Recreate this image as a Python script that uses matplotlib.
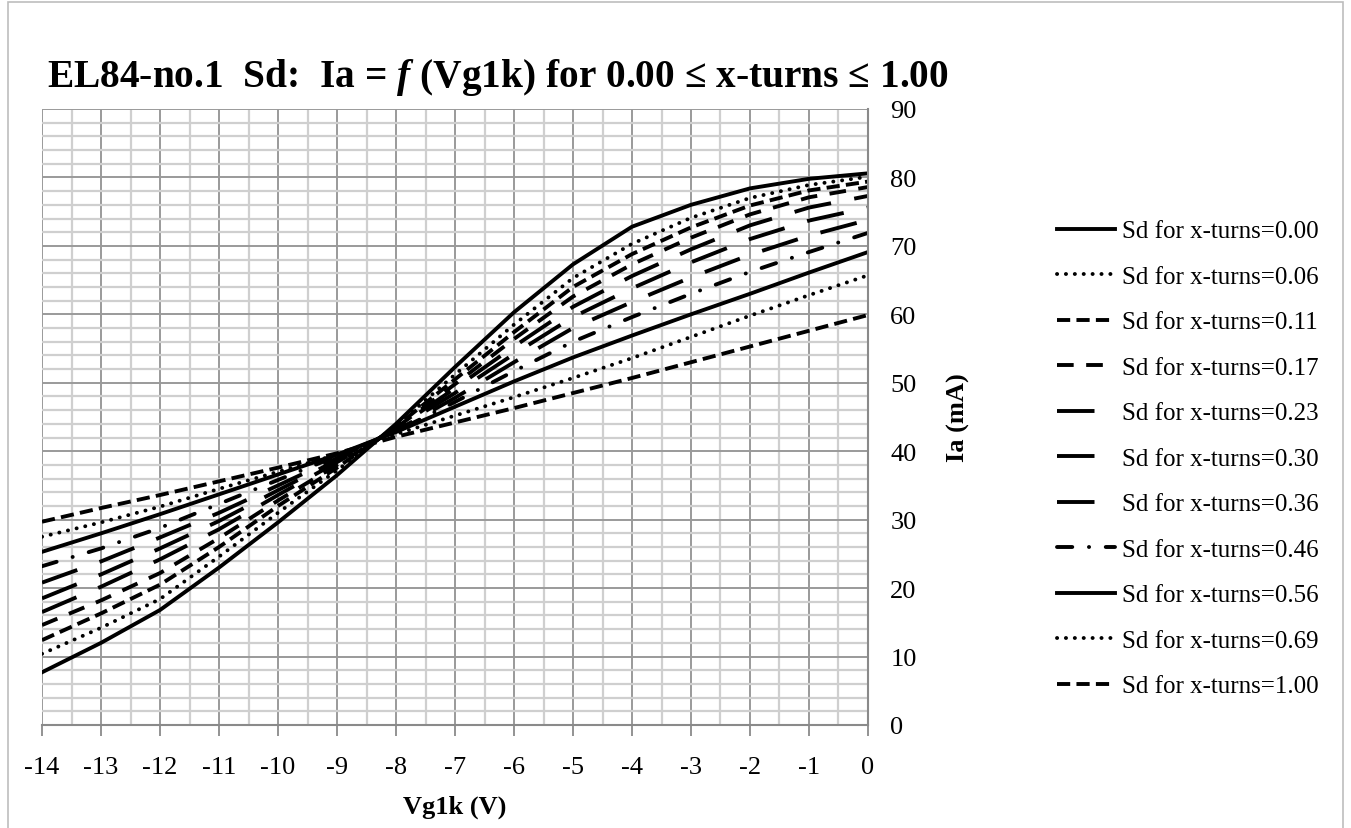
import matplotlib
matplotlib.use('Agg')
import matplotlib.pyplot as plt
from matplotlib.patches import Rectangle
from matplotlib.ticker import MultipleLocator

plt.rcParams['font.family'] = ['Liberation Serif', 'DejaVu Serif']
plt.rcParams['mathtext.fontset'] = 'custom'
plt.rcParams['mathtext.rm'] = 'Liberation Serif:bold'
plt.rcParams['mathtext.it'] = 'Liberation Serif:italic:bold'
plt.rcParams['lines.scale_dashes'] = False
plt.rcParams['axes.unicode_minus'] = False

""" Data read off the chart """

vg1k = [-14, -13, -12, -11, -10, -9, -8, -7, -6, -5, -4, -3, -2, -1, 0]

turns = ['0.00', '0.06', '0.11', '0.17', '0.23', '0.30', '0.36', '0.46', '0.56', '0.69', '1.00']

ia_000 = [7.7, 12.0, 16.8, 23.0, 29.6, 36.5, 44.0, 52.3, 60.3, 67.3, 72.8, 76.0, 78.4, 79.8, 80.6]
ia_006 = [10.4, 14.2, 18.4, 24.6, 31.0, 37.2, 43.7, 51.2, 58.5, 65.3, 70.3, 74.1, 77.0, 78.9, 80.1]
ia_011 = [12.4, 16.3, 20.5, 26.0, 32.0, 37.6, 43.6, 50.5, 57.4, 64.0, 68.8, 72.7, 75.9, 78.1, 79.4]
ia_017 = [14.6, 18.2, 22.2, 27.3, 32.8, 38.0, 43.4, 49.8, 56.4, 62.6, 67.3, 71.2, 74.6, 77.1, 78.6]
ia_023 = [16.5, 20.2, 24.2, 28.6, 33.6, 38.4, 43.3, 49.2, 55.3, 61.1, 65.6, 69.5, 73.0, 75.6, 77.3]
ia_030 = [18.5, 22.0, 25.8, 29.8, 34.3, 38.7, 43.2, 48.5, 54.2, 59.6, 63.8, 67.6, 71.0, 73.7, 75.6]
ia_036 = [20.8, 23.9, 27.4, 31.0, 35.0, 39.0, 43.0, 47.8, 53.0, 58.0, 61.8, 65.4, 68.7, 71.5, 73.8]
ia_046 = [23.2, 25.8, 28.8, 32.3, 35.8, 39.3, 42.9, 47.2, 51.7, 56.0, 59.6, 63.0, 66.2, 69.1, 71.9]
ia_056 = [25.3, 28.0, 30.8, 33.7, 36.6, 39.5, 42.8, 46.5, 50.2, 53.7, 56.9, 60.0, 63.0, 66.1, 69.1]
ia_069 = [27.5, 29.6, 31.9, 34.5, 37.0, 39.5, 42.5, 45.2, 47.9, 50.7, 53.6, 56.7, 59.8, 62.8, 65.7]
ia_100 = [29.7, 31.7, 33.6, 35.6, 37.6, 39.7, 42.1, 44.2, 46.3, 48.5, 50.7, 53.0, 55.3, 57.6, 59.9]

series = [ia_000, ia_006, ia_011, ia_017, ia_023, ia_030, ia_036, ia_046, ia_056, ia_069, ia_100]

""" Line styles (dash lengths in points) """

solid = dict(linestyle='-')
dots = dict(dashes=(0.1, 6.3), dash_capstyle='round')
short_dash = dict(dashes=(9.5, 4.5))
dash = dict(dashes=(12, 9))
long_dash = dict(dashes=(27, 17))
dash_dot = dict(dashes=(11, 12, 0.1, 12), dash_capstyle='round')

styles = [solid, dots, short_dash, dash, long_dash, long_dash, long_dash,
          dash_dot, solid, dots, short_dash]

W, H = 1351, 829
fig = plt.figure(figsize=(W / 100, H / 100), dpi=100)
ax = fig.add_axes([42 / W, 1 - 726 / H, (868 - 42) / W, (726 - 110) / H])

for ys, t, st in zip(series, turns, styles):
    ax.plot(vg1k, ys, color='black', linewidth=2.8,
            label='Sd for x-turns=' + t, **st)

ax.set_xlim(-14, 0)
ax.set_ylim(0, 90)
ax.xaxis.set_major_locator(MultipleLocator(1))
ax.xaxis.set_minor_locator(MultipleLocator(0.5))
ax.yaxis.set_major_locator(MultipleLocator(10))
ax.yaxis.set_minor_locator(MultipleLocator(2))
ax.grid(which='minor', color='#cfcfcf', linewidth=1.6, zorder=0)
ax.grid(which='major', color='#9a9a9a', linewidth=1.4, zorder=0)
ax.set_axisbelow(True)

ax.yaxis.tick_right()
ax.yaxis.set_label_position('right')
ax.tick_params(axis='y', which='both', length=0, pad=16, labelsize=19)
ax.tick_params(axis='x', which='major', length=8, width=1.3, color='#8a8a8a',
               direction='out', pad=14, labelsize=19)
ax.tick_params(axis='x', which='minor', length=0)

for side in ['left', 'top']:
    ax.spines[side].set_visible(False)
for side in ['right', 'bottom']:
    ax.spines[side].set_color('#8a8a8a')
    ax.spines[side].set_linewidth(1.5)

ax.set_xlabel('Vg1k (V)', fontsize=19, fontweight='bold', labelpad=12)
ax.set_ylabel('Ia (mA)', fontsize=19, fontweight='bold', labelpad=22)

fig.text(47 / W, 1 - 78 / H,
         'EL84-no.1  Sd:  Ia = $f$ (Vg1k) for 0.00 \u2264 x-turns \u2264 1.00',
         fontsize=28.4, fontweight='bold', va='center', ha='left')

fig.legend(loc='upper left', bbox_to_anchor=(1047 / W, 1 - 211 / H),
           frameon=False, fontsize=18, handlelength=2.3, handletextpad=0.3,
           labelspacing=0.92, borderaxespad=0)

fig.patches.append(Rectangle((8 / W, -0.05), (1343 - 8) / W, 1.05 - 3 / H,
                             transform=fig.transFigure, fill=False,
                             edgecolor='#bdbdbd', linewidth=1.2))

fig.savefig('out.png', dpi=100)
